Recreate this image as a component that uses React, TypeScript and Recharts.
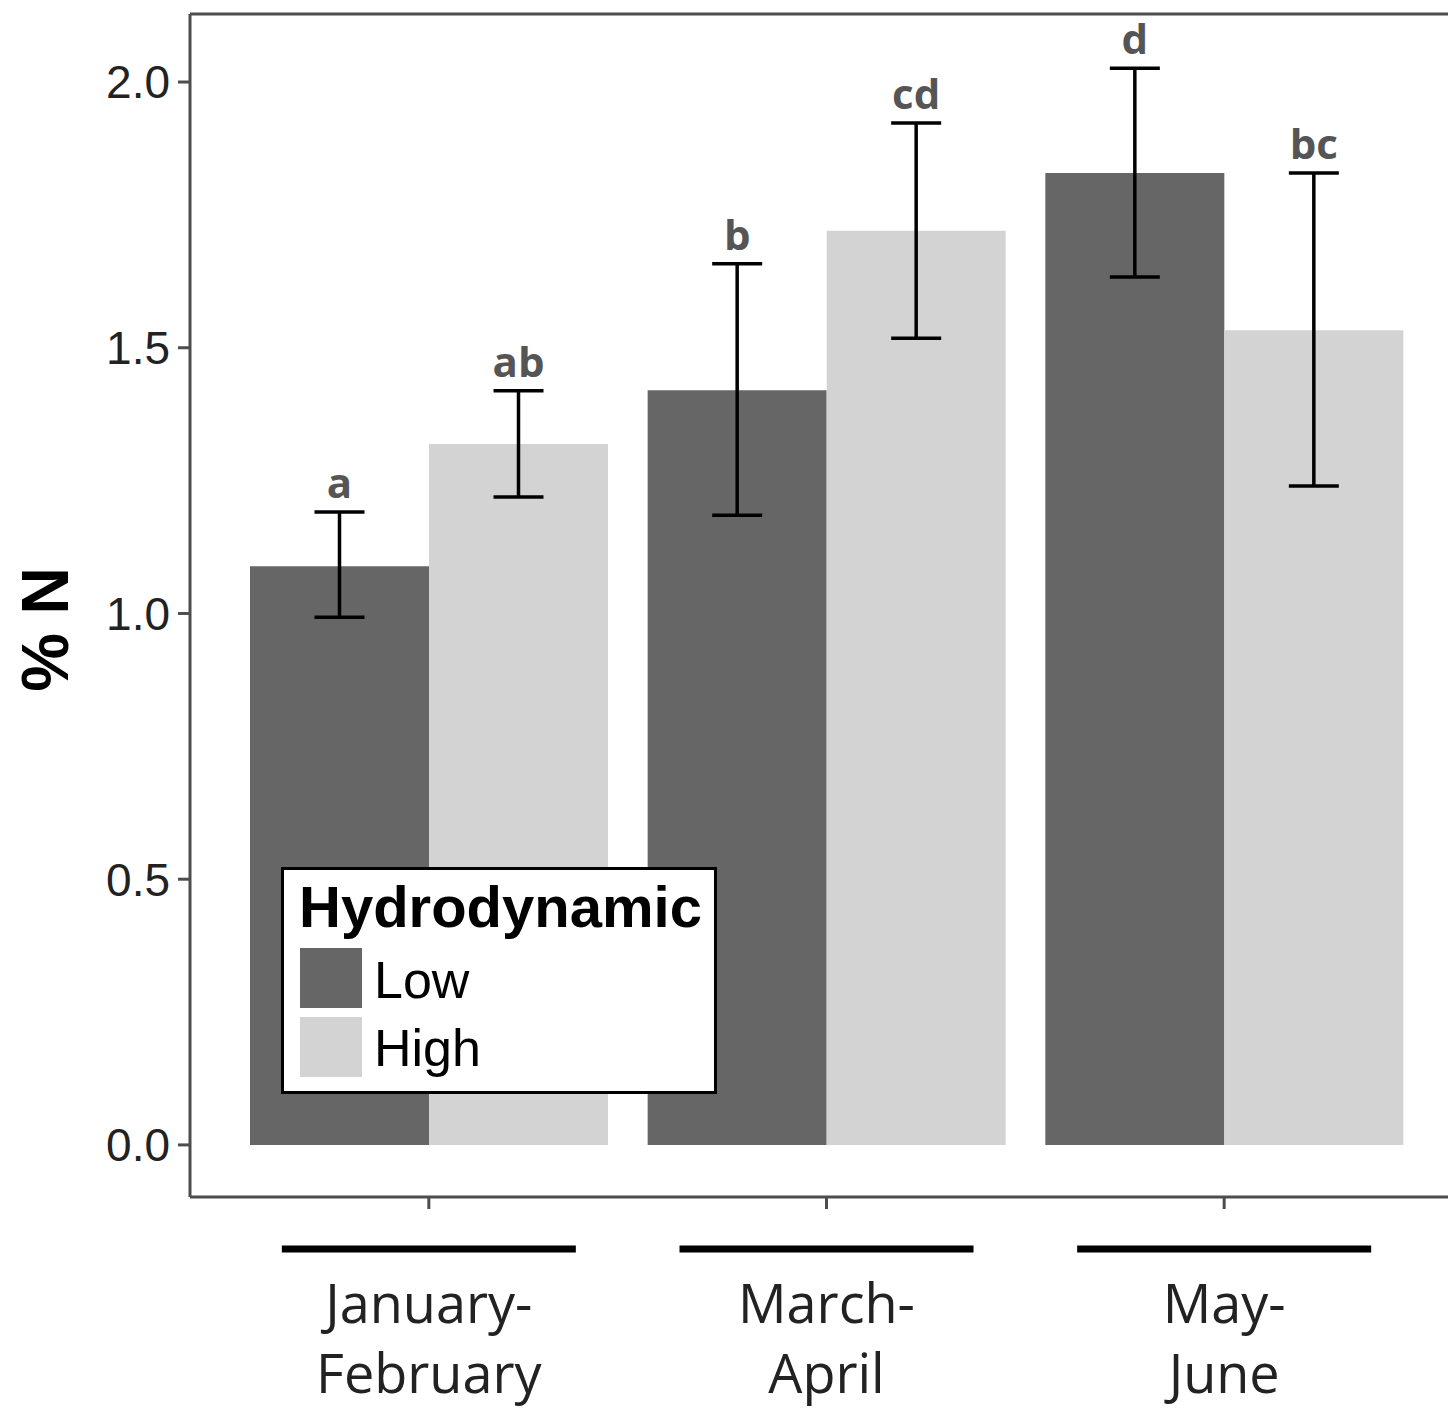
import { BarChart, Bar, XAxis, YAxis, ErrorBar, Legend, ReferenceLine, Label } from "recharts";

const periods = ["January-February", "March-April", "May-June"];
const periodLines = [
  ["January-", "February"],
  ["March-", "April"],
  ["May-", "June"],
];
const lowMean = [1.089, 1.42, 1.829];
const lowUpper = [1.191, 1.658, 2.026];
const lowLower = [0.993, 1.185, 1.633];
const highMean = [1.319, 1.72, 1.533];
const highUpper = [1.419, 1.923, 1.829];
const highLower = [1.219, 1.518, 1.24];
const lowLetters = ["a", "b", "d"];
const highLetters = ["ab", "cd", "bc"];
const legendOrder = ["Low", "High"];
const yTicks = [0, 0.5, 1, 1.5, 2];
const yDomain: [number, number] = [-0.098, 2.128];

const LOW_FILL = "#666666";
const HIGH_FILL = "#d3d3d3";
const AXIS = "#4d4d4d";

const data = periods.map((period, i) => ({
  period,
  low: lowMean[i],
  high: highMean[i],
  lowErr: [lowMean[i] - lowLower[i], lowUpper[i] - lowMean[i]],
  highErr: [highMean[i] - highLower[i], highUpper[i] - highMean[i]],
}));

// letter above each error bar; pixel offset derived from the bar's own scale
const letterLabel = (letters: string[], upper: number[], means: number[]) => (props: any) => {
  const { x, y, width, height, index } = props;
  const pxPerUnit = height / means[index];
  const top = y - (upper[index] - means[index]) * pxPerUnit;
  return (
    <text
      x={x + width / 2}
      y={top - 14}
      textAnchor="middle"
      fontFamily="Open Sans"
      fontWeight={700}
      fontSize={42}
      fill="#555"
    >
      {letters[index]}
    </text>
  );
};

function PeriodTick(props: any) {
  const { x, y, payload } = props;
  const lines = periodLines[payload.index] ?? [payload.value];
  return (
    <g>
      <line x1={x - 147} x2={x + 147} y1={y + 40} y2={y + 40} stroke="#000" strokeWidth={7} />
      {lines.map((l: string, i: number) => (
        <text
          key={i}
          x={x}
          y={y + 114 + i * 70}
          textAnchor="middle"
          fontFamily="Open Sans"
          fontSize={54}
          fill="#222"
        >
          {l}
        </text>
      ))}
    </g>
  );
}

function HydroLegend(props: any) {
  const items = (props.payload ?? [])
    .filter((p: any) => p.type !== "none")
    .slice()
    .sort((a: any, b: any) => legendOrder.indexOf(a.value) - legendOrder.indexOf(b.value));
  return (
    <svg width={436} height={227} style={{ display: "block" }}>
      <rect x={1.5} y={1.5} width={433} height={224} fill="#fff" stroke="#000" strokeWidth={3} />
      <text x={18} y={60} fontFamily="Liberation Sans" fontWeight={700} fontSize={58} fill="#000">
        Hydrodynamic
      </text>
      {items.map((it: any, i: number) => (
        <g key={i}>
          <rect x={19} y={81 + i * 69} width={62} height={60} fill={it.color} />
          <text x={93} y={131 + i * 68} fontFamily="Liberation Sans" fontSize={52} fill="#000">
            {it.value}
          </text>
        </g>
      ))}
    </svg>
  );
}

function YLabel(props: any) {
  const vb = props.viewBox;
  const cx = vb.x + 45;
  const cy = vb.y + vb.height / 2 + 24;
  return (
    <text
      x={cx}
      y={cy}
      transform={`rotate(-90 ${cx} ${cy})`}
      textAnchor="middle"
      dominantBaseline="central"
      fontFamily="Liberation Sans"
      fontWeight={700}
      fontSize={66}
      fill="#000"
    >
      % N
    </text>
  );
}

export default function App() {
  return (
    <div
      style={{
        position: "absolute",
        left: 0,
        top: 0,
        width: 1448,
        height: 1412,
        overflow: "hidden",
        background: "#fff",
      }}
    >
      <BarChart
        width={1480}
        height={1412}
        data={data}
        margin={{ top: 14, right: 17, bottom: 0, left: 0 }}
        barCategoryGap={20}
        barGap={0}
      >
        <XAxis
          dataKey="period"
          height={215}
          padding={{ left: 40, right: 40 }}
          axisLine={{ stroke: AXIS, strokeWidth: 3 }}
          tickLine={{ stroke: AXIS, strokeWidth: 3 }}
          tickSize={12}
          tickMargin={0}
          tick={<PeriodTick />}
          interval={0}
        />
        <YAxis
          type="number"
          domain={yDomain}
          allowDataOverflow
          ticks={yTicks}
          width={190}
          axisLine={{ stroke: AXIS, strokeWidth: 3 }}
          tickLine={{ stroke: AXIS, strokeWidth: 3 }}
          tickSize={12}
          tickMargin={8}
          tickFormatter={(v: number) => v.toFixed(1)}
          tick={{ fontFamily: "Liberation Sans", fontSize: 46, fill: "#222" }}
        >
          <Label content={<YLabel />} />
        </YAxis>
        <ReferenceLine y={yDomain[1]} stroke={AXIS} strokeWidth={3} ifOverflow="visible" />
        <Legend
          layout="vertical"
          align="center"
          verticalAlign="middle"
          wrapperStyle={{ left: 281, top: 867, width: 436 }}
          content={<HydroLegend />}
        />
        <Bar
          dataKey="low"
          name="Low"
          fill={LOW_FILL}
          isAnimationActive={false}
          label={letterLabel(lowLetters, lowUpper, lowMean)}
        >
          <ErrorBar dataKey="lowErr" width={25} stroke="#000" strokeWidth={3.5} />
        </Bar>
        <Bar
          dataKey="high"
          name="High"
          fill={HIGH_FILL}
          isAnimationActive={false}
          label={letterLabel(highLetters, highUpper, highMean)}
        >
          <ErrorBar dataKey="highErr" width={25} stroke="#000" strokeWidth={3.5} />
        </Bar>
      </BarChart>
    </div>
  );
}
